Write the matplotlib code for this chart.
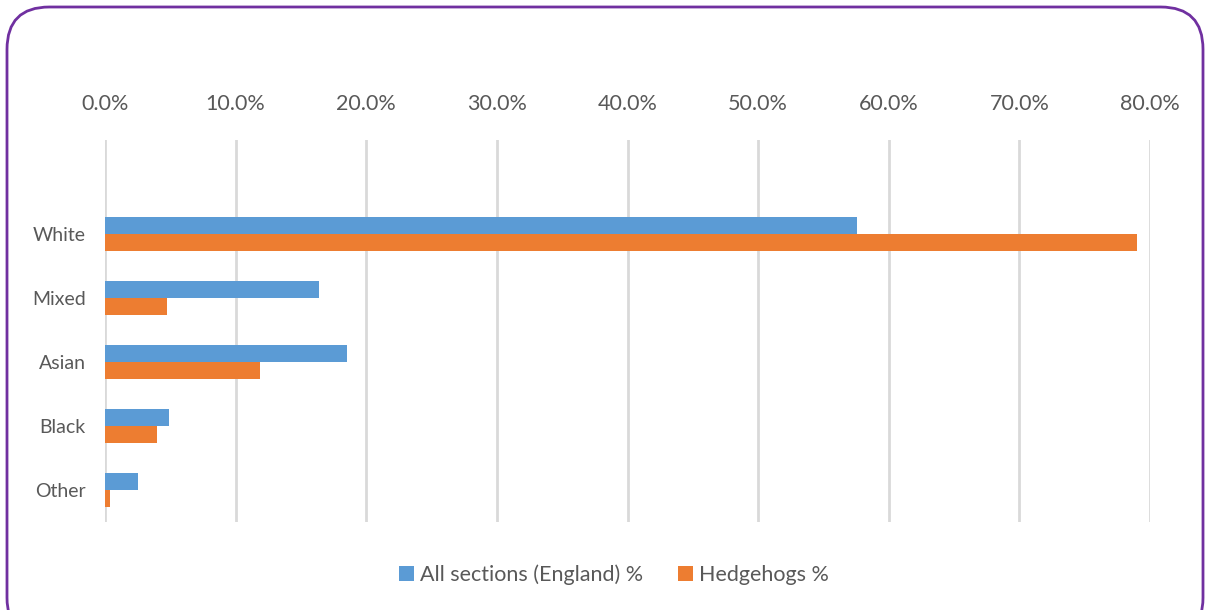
import matplotlib.pyplot as plt
import numpy as np
from matplotlib.patches import FancyBboxPatch
from matplotlib.ticker import FuncFormatter

plt.rcParams['font.family'] = ['Lato', 'DejaVu Sans']

categories = ['White', 'Mixed', 'Asian', 'Black', 'Other']
all_sections = [57.6, 16.4, 18.5, 4.9, 2.5]
hedgehogs = [79.0, 4.75, 11.9, 4.0, 0.4]
series_names = ['All sections (England) %', 'Hedgehogs %']
xticks = np.arange(0, 81, 10)

blue = '#5B9BD5'
orange = '#ED7D31'
grey_text = '#595959'

W, H = 1210, 610
fig = plt.figure(figsize=(W / 100, H / 100), dpi=100)
ax = fig.add_axes([105 / W, 1 - 522 / H, (1150 - 105) / W, (522 - 140) / H])

y = np.arange(len(categories))
bh = 0.26
ax.barh(y - bh / 2, all_sections, height=bh, color=blue, label=series_names[0])
ax.barh(y + bh / 2, hedgehogs, height=bh, color=orange, label=series_names[1])

ax.set_xlim(0, 80)
ax.set_ylim(4.5, -1.47)
ax.set_xticks(xticks)
ax.xaxis.set_major_formatter(FuncFormatter(lambda v, p: f'{v:.1f}%'))
ax.xaxis.tick_top()
ax.tick_params(axis='x', length=0, pad=19, labelsize=15.5, labelcolor=grey_text)
ax.set_yticks(y)
ax.set_yticklabels(categories)
ax.tick_params(axis='y', length=0, pad=14, labelsize=14, labelcolor=grey_text)
ax.grid(axis='x', color='#D9D9D9', linewidth=2)
ax.set_axisbelow(True)
for s in ax.spines.values():
    s.set_visible(False)

fig.legend(loc='center', bbox_to_anchor=(614 / W, 1 - 575 / H), ncol=2, frameon=False,
           fontsize=15.5, labelcolor=grey_text, handlelength=0.7, handleheight=0.7,
           handletextpad=0.3, columnspacing=1.6)

# rounded purple frame around the chart
frame = FancyBboxPatch((7 / W, -30 / H), (W - 14) / W, (H + 30 - 7) / H,
                       boxstyle='round,pad=0,rounding_size=0.035',
                       transform=fig.transFigure, fill=False,
                       edgecolor='#7030A0', linewidth=2, mutation_aspect=W / H)
fig.patches.append(frame)

fig.savefig('out.png', dpi=100)
